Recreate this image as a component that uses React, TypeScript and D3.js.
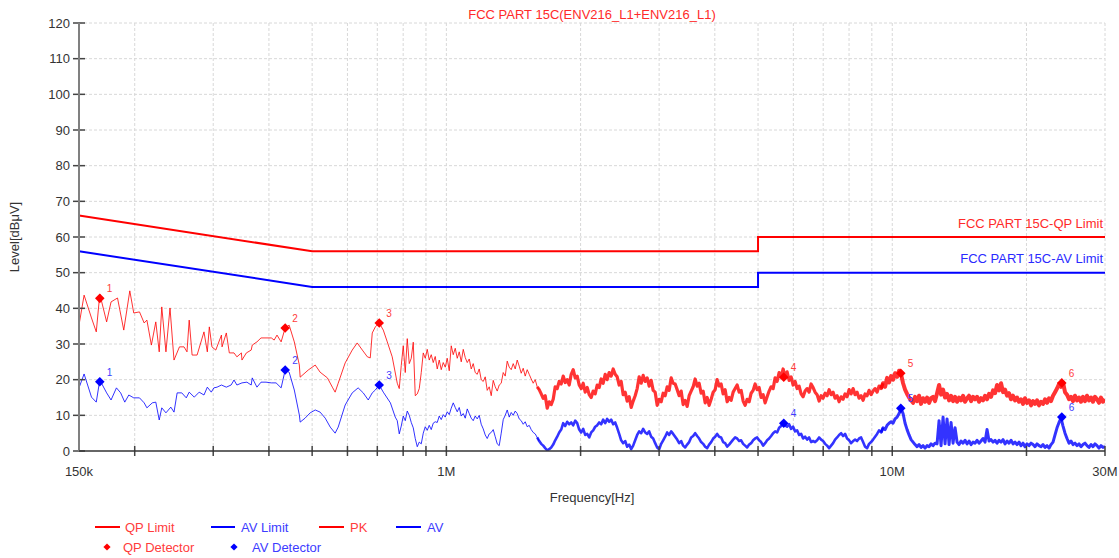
import React from 'react';
import * as d3 from 'd3';

// ---- chart data ----

// limit lines (MHz / dBuV)
const qpLimitFreq = [0.15, 0.5, 5, 5, 30];
const qpLimitLevel = [66, 56, 56, 60, 60];
const avLimitFreq = [0.15, 0.5, 5, 5, 30];
const avLimitLevel = [56, 46, 46, 50, 50];

// low band trace points (kHz / dBuV), 150k .. 776k
const pkLowFreqKHz = [150, 154, 160, 164, 167, 173, 177, 183, 189, 195, 199, 205, 210, 213, 218, 223, 227, 230, 235, 240,
  245, 252, 258, 262, 265, 269, 276, 286, 291, 294, 298, 304, 313, 314, 321, 326, 334, 339, 347, 348,
  356, 365, 367, 376, 384, 394, 405, 411, 417, 426, 435, 444, 456, 468, 470, 490, 508, 521, 541, 555,
  563, 572, 593, 615, 631, 648, 665, 675, 682, 693, 707, 722, 737, 756];
const pkLowLevel = [35.3, 43.7, 37.3, 33.4, 44.0, 36.2, 41.8, 42.9, 33.9, 44.9, 38.7, 39.0, 35.9, 36.7, 29.7, 36.2, 27.8, 40.4, 27.8, 40.1,
  25.5, 29.2, 29.2, 27.8, 36.7, 26.9, 26.9, 33.4, 27.8, 34.8, 29.2, 28.3, 32.5, 29.2, 33.1, 27.5, 27.5, 26.4, 27.5, 25.5,
  27.5, 28.3, 29.7, 30.6, 31.7, 31.7, 31.7, 31.1, 32.5, 30.6, 34.5, 35.3, 30.6, 24.1, 20.7, 22.7, 24.1, 22.1, 20.5, 17.9,
  16.5, 19.0, 24.7, 28.3, 30.3, 28.3, 26.4, 26.1, 33.1, 34.8, 35.9, 33.9, 30.6, 26.4];

const avLowFreqKHz = [150, 154, 160, 164, 167, 173, 177, 182, 186, 190, 194, 199, 205, 210, 213, 219, 223, 227, 230, 235,
  241, 245, 249, 255, 261, 265, 272, 279, 286, 291, 297, 301, 306, 313, 321, 329, 334, 339, 348, 357,
  365, 367, 376, 384, 394, 405, 415, 426, 435, 444, 456, 468, 470, 482, 495, 508, 521, 535, 549, 563,
  572, 593, 615, 634, 651, 668, 682, 693, 707, 722, 749, 768];
const avLowLevel = [17.7, 21.6, 15.1, 13.7, 19.9, 16.3, 14.3, 17.7, 16.3, 13.7, 15.7, 14.9, 14.9, 13.5, 12.1, 13.5, 13.7, 8.7, 12.1, 10.7,
  12.3, 10.9, 16.3, 16.3, 14.9, 16.5, 15.1, 16.5, 15.7, 17.9, 16.5, 17.7, 17.9, 18.5, 17.9, 18.5, 19.9, 18.5, 19.1, 19.3,
  18.5, 20.5, 17.9, 19.3, 19.3, 19.1, 19.1, 17.7, 22.7, 22.1, 17.1, 10.1, 8.1, 9.2, 10.7, 11.5, 10.9, 9.2, 6.7, 5.0,
  6.7, 12.9, 16.3, 17.7, 16.3, 14.3, 16.3, 17.1, 18.5, 16.5, 13.5, 9.5];

// receiver sweep 0.776 MHz .. 30 MHz, log spaced points (dBuV)
const sweepStartMHz = 0.776;
const sweepStopMHz = 30;
const pkSweepLevel = [
  19.0, 17.5, 24.0, 29.5, 22.0, 31.5, 24.5, 26.0, 30.5, 15.5,
  16.0, 17.5, 22.0, 27.5, 26.0, 28.5, 25.5, 27.0, 24.8, 26.5,
  23.0, 25.5, 22.8, 24.8, 23.5, 26.0, 22.5, 29.5, 27.0, 28.8,
  26.0, 27.8, 25.0, 28.5, 26.2, 24.8, 25.8, 23.0, 24.5, 22.0,
  21.5, 23.0, 20.0, 19.5, 20.8, 17.0, 18.0, 15.5, 19.8, 18.0,
  16.8, 18.5, 19.0, 22.0, 21.0, 25.2, 23.5, 22.8, 24.5, 23.0,
  25.5, 23.8, 21.8, 23.2, 21.0, 22.8, 21.5, 20.2, 19.0, 20.0,
  18.0, 17.2, 16.0, 14.8, 15.5, 12.0, 13.8, 13.0, 14.5, 18.0,
  17.5, 19.5, 18.8, 21.0, 19.2, 20.0, 18.5, 21.5, 22.8, 20.5,
  21.0, 18.5, 17.5, 19.0, 16.5, 17.8, 15.8, 15.0, 16.8, 16.0,
  18.5, 17.8, 20.2, 19.0, 21.5, 20.0, 22.0, 21.0, 23.0, 21.5,
  20.8, 18.5, 19.5, 15.8, 16.5, 14.0, 15.2, 12.2, 14.0, 15.5,
  17.5, 20.8, 19.0, 21.2, 19.5, 20.5, 18.2, 19.8, 17.0, 16.5,
  12.8, 14.5, 13.8, 16.2, 15.5, 18.0, 17.0, 20.5, 19.0, 18.8,
  17.2, 15.5, 16.8, 13.0, 14.2, 12.5, 15.5, 16.8, 18.0, 20.2,
  18.2, 19.0, 16.2, 16.8, 13.5, 15.0, 12.8, 14.5, 16.5, 17.2,
  20.0, 18.2, 18.8, 16.0, 17.2, 13.8, 15.0, 14.2, 16.5, 17.5,
  18.5, 16.5, 17.0, 14.0, 12.8, 14.5, 13.8, 16.2, 17.0, 18.8,
  17.2, 17.8, 15.0, 15.8, 13.5, 15.2, 16.8, 18.0, 17.5, 20.5,
  19.5, 22.0, 20.8, 23.0, 21.0, 22.2, 19.8, 20.8, 18.5, 19.5,
  17.5, 18.2, 16.0, 15.2, 16.8, 17.5, 16.5, 18.8, 17.8, 16.5,
  15.8, 14.0, 15.5, 14.8, 16.2, 15.5, 17.2, 15.8, 16.5, 14.8,
  15.5, 13.8, 15.2, 14.5, 16.0, 15.2, 17.2, 16.0, 17.5, 15.8,
  16.5, 14.8, 15.5, 14.2, 16.0, 15.5, 17.0, 15.8, 16.8, 17.5,
  16.5, 18.2, 17.5, 19.0, 18.0, 20.5, 19.2, 21.0, 20.0, 21.8,
  20.8, 22.5, 21.5, 19.0, 17.2, 16.0, 15.0, 14.2, 13.5, 15.2,
  14.0, 15.5, 13.2, 14.8, 13.8, 15.0, 13.5, 14.8, 15.2, 14.0,
  16.2, 18.5, 15.8, 17.2, 15.0, 16.0, 14.2, 15.5, 14.0, 15.2,
  13.8, 15.0, 14.2, 15.5, 13.8, 14.8, 15.5, 14.0, 15.2, 14.5,
  15.2, 13.8, 14.8, 14.2, 15.5, 14.5, 16.0, 15.2, 17.0, 16.2,
  18.5, 17.0, 19.0, 16.5, 17.2, 15.5, 16.2, 14.5, 15.5, 14.2,
  15.0, 13.8, 14.5, 13.2, 14.8, 13.5, 14.2, 12.8, 14.0, 13.2,
  14.2, 12.8, 13.8, 13.2, 14.5, 13.5, 14.8, 14.0, 15.5, 16.5,
  17.5, 18.8, 18.0, 19.2, 16.5, 15.8, 14.5, 15.2, 14.0, 15.5,
  14.2, 15.0, 13.8, 15.2, 14.0, 15.5, 14.2, 15.0, 13.8, 15.2,
  14.5, 13.5, 15.0, 13.8, 14.5];
const avSweepLevel = [
  8.5, 4.8, 7.0, 9.8, 8.5, 11.2, 10.0, 8.0, 6.5, 3.5,
  1.2, 2.5, 2.0, 5.0, 6.8, 5.8, 7.2, 6.0, 7.8, 8.2,
  8.0, 9.8, 8.8, 10.2, 9.5, 11.0, 10.2, 12.0, 13.5, 12.2,
  11.0, 12.2, 9.8, 10.5, 9.2, 11.8, 10.5, 9.2, 8.5, 9.8,
  9.0, 10.0, 7.5, 6.2, 4.5, 3.5, 4.8, 5.2, 6.0, 4.0,
  2.0, 1.5, 5.0, 8.8, 10.0, 11.5, 9.5, 10.8, 10.0, 11.2,
  10.5, 9.0, 8.5, 7.5, 8.2, 6.8, 7.2, 6.0, 5.2, 4.8,
  3.8, 2.8, 2.0, 1.5, 0.8, 0.2, 0.5, 1.0, 1.8, 3.0,
  4.0, 5.2, 6.0, 7.8, 7.0, 8.2, 7.5, 8.0, 7.2, 8.5,
  7.8, 6.0, 5.2, 6.2, 4.5, 4.8, 3.8, 5.2, 5.8, 6.8,
  7.2, 8.0, 7.5, 8.8, 7.8, 9.0, 8.2, 8.8, 7.5, 8.0,
  6.5, 4.8, 3.0, 2.2, 2.8, 1.2, 1.8, 0.5, 1.5, 3.0,
  4.5, 5.5, 5.0, 6.2, 5.2, 4.8, 5.5, 4.0, 3.5, 2.2,
  1.0, 0.5, 2.0, 3.0, 4.0, 5.2, 4.5, 5.5, 4.8, 4.0,
  3.2, 2.2, 2.8, 1.5, 1.0, 1.8, 2.5, 3.8, 4.2, 5.0,
  4.2, 3.5, 2.5, 2.0, 1.2, 0.8, 1.8, 2.5, 3.5, 4.0,
  4.8, 4.0, 3.8, 2.5, 2.2, 1.2, 1.8, 2.5, 3.2, 3.8,
  3.5, 2.8, 3.0, 2.0, 1.5, 1.0, 1.8, 2.2, 3.0, 3.5,
  3.8, 3.0, 2.5, 1.5, 2.2, 3.0, 3.5, 4.2, 5.0, 5.5,
  5.2, 6.5, 7.0, 8.0, 7.2, 6.8, 7.5, 6.2, 6.8, 5.5,
  5.8, 4.5, 4.8, 3.5, 4.0, 3.2, 3.8, 2.5, 2.8, 2.5,
  3.0, 3.8, 3.2, 2.8, 2.0, 1.5, 0.8, 1.5, 2.2, 3.2,
  3.8, 4.5, 5.0, 4.2, 4.8, 3.5, 3.0, 2.2, 2.8, 3.2,
  2.8, 3.5, 3.8, 2.5, 1.2, 0.8, 2.0, 2.5, 3.2, 4.0,
  4.8, 5.8, 5.2, 6.5, 6.0, 7.2, 7.8, 8.2, 7.8, 9.0,
  9.5, 10.5, 11.8, 10.5, 7.8, 6.0, 4.5, 3.2, 2.5, 1.8,
  1.2, 1.8, 1.0, 1.5, 0.8, 1.5, 1.2, 2.0, 1.5, 2.2,
  2.0, 8.5, 1.5, 9.5, 2.0, 9.0, 1.8, 8.0, 2.2, 6.5,
  2.5, 1.8, 2.8, 2.2, 3.0, 2.0, 2.8, 1.8, 2.5, 2.2,
  3.0, 2.2, 2.8, 3.5, 2.5, 6.0, 2.8, 3.2, 2.5, 3.0,
  2.2, 3.0, 2.5, 3.2, 2.0, 2.8, 2.2, 3.0, 2.0, 2.5,
  1.8, 2.5, 1.5, 2.2, 1.2, 2.0, 1.5, 2.2, 1.8, 1.2,
  2.0, 1.5, 1.2, 1.8, 1.0, 1.5, 0.8, 1.8, 2.5, 4.5,
  6.5, 8.0, 9.2, 7.0, 5.0, 3.5, 2.2, 2.8, 1.8, 2.2,
  1.5, 2.0, 1.2, 1.8, 2.2, 1.5, 1.0, 1.8, 1.2, 2.0,
  1.5, 0.8, 1.5, 1.0, 1.2];

// final measurements
const markerFreq = [0.167, 0.435, 0.707, 5.71, 10.45, 24.0];
const qpDetLevel = [42.8, 34.5, 35.9, 20.7, 21.8, 19.1];
const avDetLevel = [19.4, 22.7, 18.5, 7.8, 12.0, 9.5];

// axes
const yTicks = [0, 10, 20, 30, 40, 50, 60, 70, 80, 90, 100, 110, 120];
const xGridMHz = [0.2, 0.3, 0.4, 0.5, 0.6, 0.7, 0.8, 0.9, 1, 2, 3, 4, 5, 6, 7, 8, 9, 10, 20, 30];
const xLabelMHz = [0.15, 1, 10, 30];
const xLabelText = ['150k', '1M', '10M', '30M'];

const RED = '#ff0000';
const BLUE = '#0000ff';
const FONT = '"Liberation Sans", Arial, sans-serif';

type Pt = [number, number];

// the trace gets denser (thicker looking) as the sweep goes up in frequency
const traceBands = [
  { from: 0, to: 1.6, pk: 1, av: 1 },
  { from: 1.6, to: 9.5, pk: 3.2, av: 2.6 },
  { from: 9.5, to: 31, pk: 4, av: 3 },
];

function slice(data: Pt[], f0: number, f1: number): Pt[] {
  const i0 = Math.max(0, data.findIndex(d => d[0] >= f0) - 1);
  let i1 = data.findIndex(d => d[0] > f1);
  if (i1 < 0) i1 = data.length - 1;
  return data.slice(i0, i1 + 1);
}

function App() {
  const width = 1119, height = 558;
  const left = 79, right = 1105, top = 23, bottom = 451;

  const x = d3.scaleLog().domain([0.15, 30]).range([left, right]);
  const y = d3.scaleLinear().domain([0, 120]).range([bottom, top]);

  const line = d3.line<Pt>().x(d => x(d[0])).y(d => y(d[1]));

  const sweepFreq = pkSweepLevel.map((_, i) =>
    sweepStartMHz * Math.pow(sweepStopMHz / sweepStartMHz, i / (pkSweepLevel.length - 1)));

  const pkData: Pt[] = [
    ...pkLowFreqKHz.map((f, i) => [f / 1000, pkLowLevel[i]] as Pt),
    ...sweepFreq.map((f, i) => [f, pkSweepLevel[i]] as Pt),
  ];
  const avData: Pt[] = [
    ...avLowFreqKHz.map((f, i) => [f / 1000, avLowLevel[i]] as Pt),
    ...sweepFreq.map((f, i) => [f, avSweepLevel[i]] as Pt),
  ];
  const qpLimit = qpLimitFreq.map((f, i) => [f, qpLimitLevel[i]] as Pt);
  const avLimit = avLimitFreq.map((f, i) => [f, avLimitLevel[i]] as Pt);

  const diamond = d3.symbol().type(d3.symbolSquare).size(46)();
  const legendDiamond = d3.symbol().type(d3.symbolSquare).size(26)();

  return (
    <svg width={width} height={height} style={{ position: 'absolute', left: 0, top: 0, background: '#fff' }}
      fontFamily={FONT}>
      <defs>
        <clipPath id="plot-clip">
          <rect x={left} y={top} width={right - left} height={bottom - top} />
        </clipPath>
      </defs>

      {/* grid */}
      <g stroke="#d8d8d8" strokeWidth={1} strokeDasharray="3,2">
        {yTicks.slice(1).map(t => (
          <line key={'gy' + t} x1={left} x2={right} y1={y(t)} y2={y(t)} />
        ))}
        {xGridMHz.map(f => (
          <line key={'gx' + f} x1={x(f)} x2={x(f)} y1={top} y2={bottom} />
        ))}
      </g>

      <text x={(left + right) / 2} y={19} textAnchor="middle" fontSize={13} fill="#ff2a2a">
        FCC PART 15C(ENV216_L1+ENV216_L1)
      </text>

      {/* limits */}
      <path d={line(qpLimit) || ''} fill="none" stroke={RED} strokeWidth={2} />
      <path d={line(avLimit) || ''} fill="none" stroke={BLUE} strokeWidth={2} />
      <text x={right - 2} y={228} textAnchor="end" fontSize={13} fill="#ff2a2a">FCC PART 15C-QP Limit</text>
      <text x={right - 2} y={263} textAnchor="end" fontSize={13} fill="#2a2aff">FCC PART 15C-AV Limit</text>

      {/* traces */}
      <g clipPath="url(#plot-clip)" fill="none" strokeLinejoin="round" strokeOpacity={0.8}>
        {traceBands.map(b => (
          <g key={'b' + b.from}>
            <path d={line(slice(pkData, b.from, b.to)) || ''} stroke={RED} strokeWidth={b.pk} />
            <path d={line(slice(avData, b.from, b.to)) || ''} stroke={BLUE} strokeWidth={b.av} />
          </g>
        ))}
      </g>

      {/* detector markers */}
      {markerFreq.map((f, i) => (
        <g key={'m' + i}>
          <path d={diamond} transform={`translate(${x(f)},${y(qpDetLevel[i])}) rotate(45)`} fill={RED} />
          <text x={x(f) + 7} y={y(qpDetLevel[i]) - 6} fontSize={10} fill="#ff3c3c">{i + 1}</text>
          <path d={diamond} transform={`translate(${x(f)},${y(avDetLevel[i])}) rotate(45)`} fill={BLUE} />
          <text x={x(f) + 7} y={y(avDetLevel[i]) - 6} fontSize={10} fill="#3c3cff">{i + 1}</text>
        </g>
      ))}

      {/* axes */}
      <g fontSize={13} fill="#333">
        {yTicks.map(t => (
          <g key={'yt' + t}>
            <line x1={left - 6} x2={left + 6} y1={y(t)} y2={y(t)} stroke="#444" strokeWidth={1.5} />
            <text x={left - 9} y={y(t) + 4.5} textAnchor="end">{t}</text>
          </g>
        ))}
        {xGridMHz.map(f => (
          <line key={'xt' + f} x1={x(f)} x2={x(f)} y1={bottom - 5} y2={bottom + 5} stroke="#444" strokeWidth={1.5} />
        ))}
        {xLabelMHz.map((f, i) => (
          <text key={'xl' + f} x={x(f)} y={bottom + 25} textAnchor="middle">{xLabelText[i]}</text>
        ))}
      </g>
      <line x1={left} x2={left} y1={top} y2={bottom} stroke="#808080" strokeWidth={2} />
      <line x1={left} x2={right} y1={bottom} y2={bottom} stroke="#333" strokeWidth={1.5} />

      <text x={(left + right) / 2} y={502} textAnchor="middle" fontSize={13} fill="#333">Frequency[Hz]</text>
      <text transform={`translate(19,237) rotate(-90)`} textAnchor="middle" fontSize={13} fill="#333">Level[dBμV]</text>

      {/* legend */}
      <g fontSize={13}>
        <line x1={95} x2={120} y1={527} y2={527} stroke={RED} strokeWidth={2} />
        <text x={125} y={532} fill="#ff3c3c">QP Limit</text>
        <line x1={211} x2={235} y1={527} y2={527} stroke={BLUE} strokeWidth={2} />
        <text x={241} y={532} fill="#3c3cff">AV Limit</text>
        <line x1={319} x2={344} y1={527} y2={527} stroke={RED} strokeWidth={2} />
        <text x={350} y={532} fill="#ff3c3c">PK</text>
        <line x1={396} x2={421} y1={527} y2={527} stroke={BLUE} strokeWidth={2} />
        <text x={427} y={532} fill="#3c3cff">AV</text>
        <path d={legendDiamond} transform="translate(107,547) rotate(45)" fill={RED} />
        <text x={123} y={552} fill="#ff3c3c">QP Detector</text>
        <path d={legendDiamond} transform="translate(234,547) rotate(45)" fill={BLUE} />
        <text x={252} y={552} fill="#3c3cff">AV Detector</text>
      </g>
    </svg>
  );
}

export default App;
